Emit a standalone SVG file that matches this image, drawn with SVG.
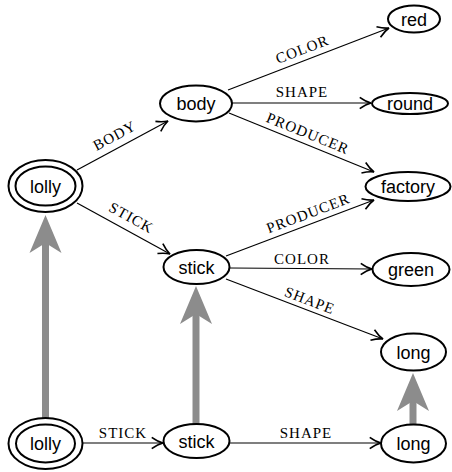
<svg xmlns="http://www.w3.org/2000/svg" width="452" height="472" viewBox="0 0 452 472">
<style>
  .node ellipse { fill: #fff; stroke: #000; stroke-width: 2; }
  .node text { font-family: "Liberation Sans", Arial, sans-serif; font-size: 18px; text-anchor: middle; fill: #000; }
  .edge { stroke: #000; stroke-width: 1.2; fill: none; marker-end: url(#ah); }
  .lbl { font-family: "Liberation Serif", "Times New Roman", serif; font-size: 15px; letter-spacing: 1px; text-anchor: middle; fill: #000; }
  .map { stroke: #8c8c8c; stroke-width: 7; fill: none; marker-end: url(#gh); }
</style>
<defs>
  <marker id="ah" markerUnits="userSpaceOnUse" orient="auto" refX="0" refY="0" markerWidth="20" markerHeight="20" viewBox="-12 -8 16 16" overflow="visible">
    <path d="M-9,-4.5 Q-4,-1 0,0 Q-4,1 -9,4.5" fill="none" stroke="#000" stroke-width="1.3"/>
  </marker>
  <marker id="gh" markerUnits="userSpaceOnUse" orient="auto" refX="10" refY="0" markerWidth="50" markerHeight="40" viewBox="0 -20 50 40" overflow="visible">
    <path d="M38,0 L0,-16 L10,0 L0,16 Z" fill="#8c8c8c"/>
  </marker>
</defs>

<g id="connectors">
  <line class="map" x1="45.5" y1="418" x2="45.5" y2="243"/>
  <line class="map" x1="196" y1="424" x2="196" y2="314"/>
  <line class="map" x1="413" y1="424" x2="413" y2="401"/>

  <line class="edge" x1="77" y1="170" x2="168" y2="121"/>
  <line class="edge" x1="77" y1="203" x2="170" y2="254"/>
  <line class="edge" x1="228" y1="90" x2="389" y2="28"/>
  <line class="edge" x1="232" y1="103" x2="371" y2="103"/>
  <line class="edge" x1="229" y1="113" x2="374" y2="172"/>
  <line class="edge" x1="226" y1="256" x2="374" y2="200"/>
  <line class="edge" x1="230" y1="268" x2="372" y2="269"/>
  <line class="edge" x1="226" y1="279" x2="383" y2="339"/>
  <line class="edge" x1="83" y1="443" x2="163" y2="443"/>
  <line class="edge" x1="229" y1="443" x2="381" y2="443"/>

  <text class="lbl" transform="translate(117,140) rotate(-28.3)">BODY</text>
  <text class="lbl" transform="translate(129,222) rotate(28.7)">STICK</text>
  <text class="lbl" transform="translate(304,54) rotate(-21)">COLOR</text>
  <text class="lbl" x="302" y="97">SHAPE</text>
  <text class="lbl" transform="translate(306,138) rotate(22.1)">PRODUCER</text>
  <text class="lbl" transform="translate(310,218) rotate(-20.7)">PRODUCER</text>
  <text class="lbl" x="302" y="264">COLOR</text>
  <text class="lbl" transform="translate(308,305) rotate(20.9)">SHAPE</text>
  <text class="lbl" x="123" y="438">STICK</text>
  <text class="lbl" x="306" y="438">SHAPE</text>
</g>

<g id="lolly1" class="node">
  <ellipse cx="45.5" cy="186" rx="37" ry="26"/>
  <ellipse cx="45.5" cy="186" rx="30" ry="19.5"/>
  <text x="45.5" y="192.5">lolly</text>
</g>
<g id="body" class="node">
  <ellipse cx="196" cy="103.5" rx="36" ry="18"/>
  <text x="196" y="110">body</text>
</g>
<g id="red" class="node">
  <ellipse cx="414" cy="19" rx="26" ry="13.5"/>
  <text x="414" y="25.5">red</text>
</g>
<g id="round" class="node">
  <ellipse cx="410" cy="103.5" rx="38" ry="10.5"/>
  <text x="410" y="110">round</text>
</g>
<g id="factory" class="node">
  <ellipse cx="408" cy="186.5" rx="42.5" ry="14.5"/>
  <text x="408" y="193">factory</text>
</g>
<g id="stick1" class="node">
  <ellipse cx="196.5" cy="267" rx="33" ry="17"/>
  <text x="196.5" y="273.5">stick</text>
</g>
<g id="green" class="node">
  <ellipse cx="411" cy="269.5" rx="38.5" ry="16.5"/>
  <text x="411" y="276">green</text>
</g>
<g id="long1" class="node">
  <ellipse cx="413.5" cy="352" rx="32.5" ry="18.5"/>
  <text x="413.5" y="358.5">long</text>
</g>
<g id="lolly2" class="node">
  <ellipse cx="45.5" cy="443.5" rx="37" ry="25.5"/>
  <ellipse cx="45.5" cy="443.5" rx="29.5" ry="19"/>
  <text x="45.5" y="450">lolly</text>
</g>
<g id="stick2" class="node">
  <ellipse cx="196.5" cy="441" rx="33" ry="17"/>
  <text x="196.5" y="447.5">stick</text>
</g>
<g id="long2" class="node">
  <ellipse cx="413.5" cy="443.5" rx="32.5" ry="19"/>
  <text x="413.5" y="450">long</text>
</g>
</svg>
